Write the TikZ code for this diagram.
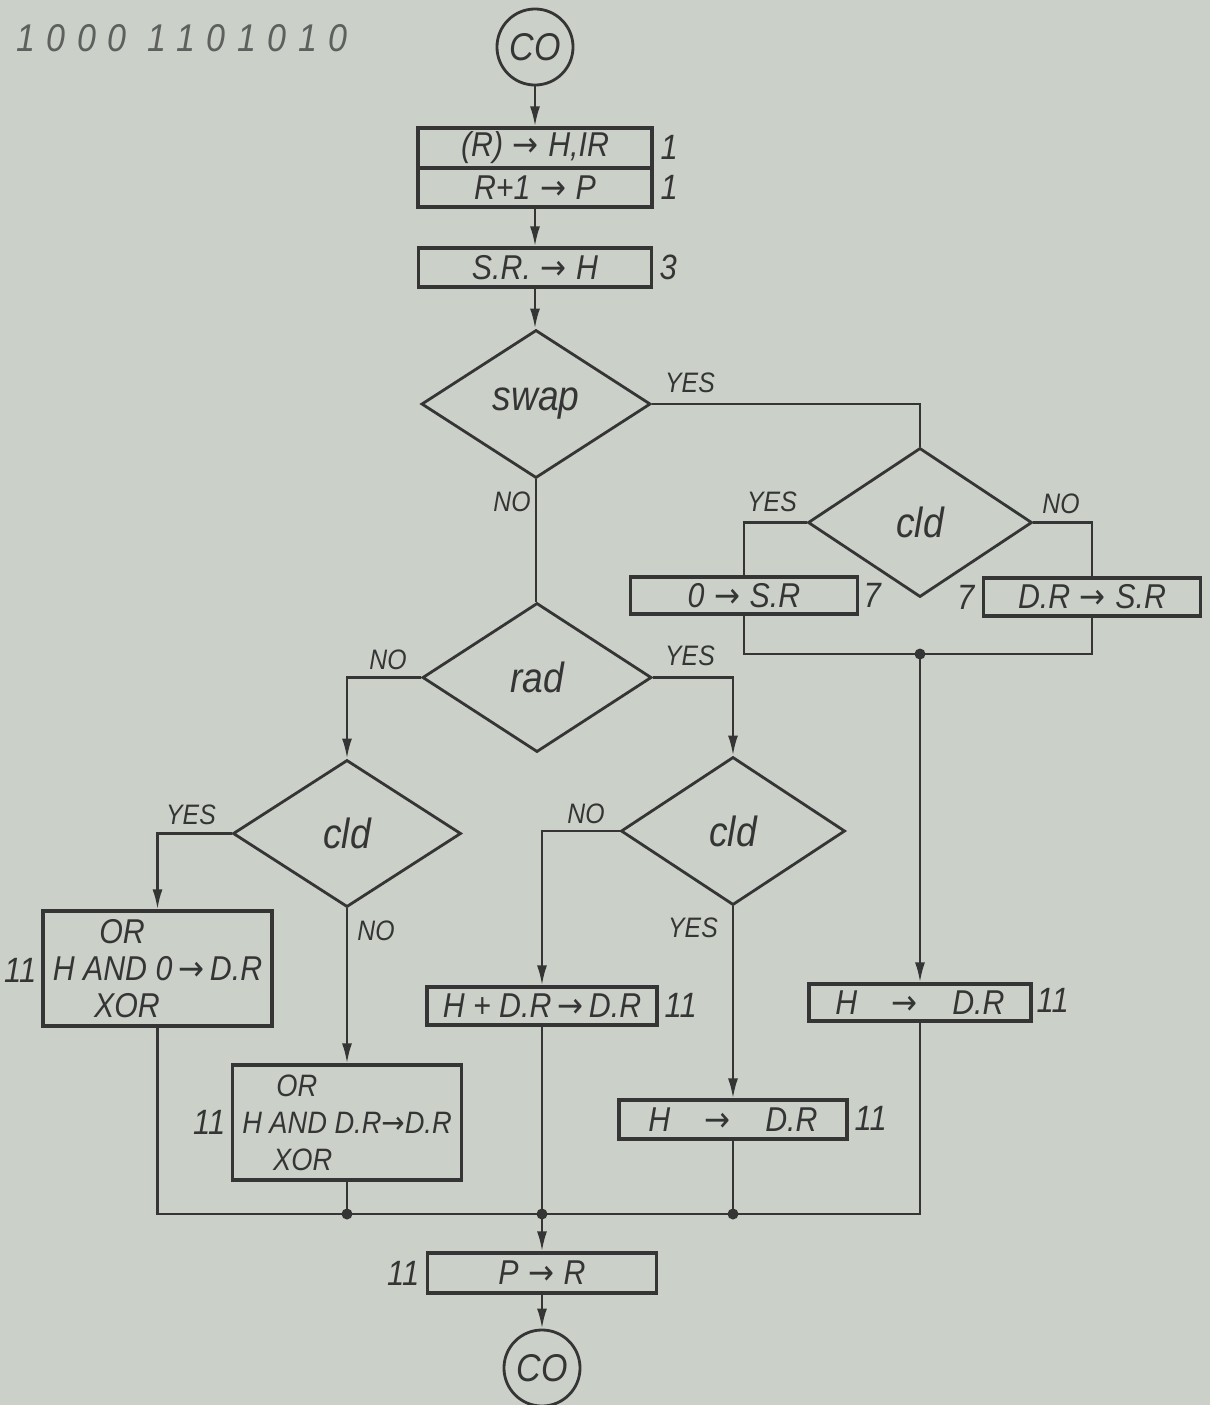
\documentclass[tikz,border=0pt]{standalone}
\usepackage{fontspec}
\setmainfont{Liberation Sans}[FakeStretch=0.88]
\newfontfamily\arrowfont{DejaVu Sans}[FakeStretch=0.9]
\usetikzlibrary{arrows.meta,positioning,shapes.geometric}
\definecolor{paper}{HTML}{CBD0C9}
\definecolor{ink}{HTML}{353535}
\definecolor{pencil}{HTML}{5E605E}
\newcommand{\ra}{{\arrowfont →}}

\begin{document}
\begin{tikzpicture}[
  x=0.01cm, y=-0.01cm,
  >={Latex[length=0.2cm,width=0.1cm]},
  terminal/.style={
    circle,
    draw=ink,
    line width=0.8pt,
    minimum size=0.76cm,
    inner sep=0pt,
    text=ink,
    font=\itshape\fontsize{11}{11}\selectfont
  },
  opbox/.style={
    rectangle,
    draw=ink,
    line width=0.9pt,
    inner sep=0pt,
    text=ink,
    font=\itshape\fontsize{9.8}{10.5}\selectfont
  },
  decision/.style={
    diamond,
    draw=ink,
    line width=0.8pt,
    inner sep=0pt,
    text=ink,
    font=\itshape\fontsize{12}{12}\selectfont
  },
  yn/.style={text=ink, inner sep=0pt, font=\itshape\fontsize{8}{8}\selectfont},
  cyc/.style={text=ink, inner sep=0pt, font=\itshape\fontsize{10}{10}\selectfont},
  flow/.style={draw=ink, line width=0.7pt, ->},
  link/.style={draw=ink, line width=0.7pt},
  joint/.style={fill=ink}
]

  % --- paper ---
  \fill[paper] (0,0) rectangle (1210,1405);
  \useasboundingbox (0,0) rectangle (1210,1405);

  \node[anchor=west, text=pencil, font=\itshape\fontsize{11}{11}\selectfont\addfontfeature{LetterSpace=30}] (note) at (4,38) {1000 1101010};

  % --- fetch ---
  \node[terminal] (coIn) at (535,47) {CO};
  \node[opbox, minimum width=2.34cm, minimum height=0.40cm] (fetch) at (535,148) {(R)\;\ra\;H,IR};
  \node[opbox, minimum width=2.34cm, minimum height=0.39cm] (incr) at (535,187.5) {R+1\;\ra\;P};
  \node[opbox, minimum width=2.33cm, minimum height=0.39cm] (load) at (535,267.5) {S.R.\;\ra\;H};

  \node[cyc, anchor=west] (c1) at (660,147) {1};
  \node[cyc, anchor=west] (c2) at (660,187) {1};
  \node[cyc, anchor=west] (c3) at (659,267) {3};

  % --- tests ---
  \node[decision, minimum width=2.29cm, minimum height=1.48cm] (swap) at (536,404) {swap};
  \node[decision, minimum width=2.24cm, minimum height=1.49cm] (cldR) at (920,522.5) {cld};
  \node[decision, minimum width=2.29cm, minimum height=1.49cm] (rad) at (537,677.5) {rad};
  \node[decision, minimum width=2.28cm, minimum height=1.47cm] (cldL) at (347,833.5) {cld};
  \node[decision, minimum width=2.24cm, minimum height=1.48cm] (cldM) at (733,831) {cld};

  % --- swap branch ---
  \node[opbox, minimum width=2.27cm, minimum height=0.37cm] (zeroSR) at (744,595.5) {0\;\ra\;S.R};
  \node[opbox, minimum width=2.17cm, minimum height=0.38cm] (drSR) at (1092,597) {D.R\;\ra\;S.R};
  \node[opbox, minimum width=2.22cm, minimum height=0.37cm] (movR) at (920,1002.5) {H\quad\ra\quad D.R};

  \node[cyc, anchor=west] (c4) at (863,595) {7};
  \node[cyc, anchor=east] (c5) at (975,597) {7};
  \node[cyc, anchor=west] (c6) at (1036,1000) {11};

  % --- logic / add branch ---
  \node[opbox, minimum width=2.29cm, minimum height=1.15cm, align=left] (orL) at (157.5,968.5)
    {\hspace*{1.35em}OR\\H AND 0\,\ra\,D.R\\\hspace*{1.2em}XOR};
  \node[opbox, minimum width=2.29cm, minimum height=1.15cm, align=left,
        font=\itshape\fontsize{8.8}{10.5}\selectfont] (orR) at (347,1122.5)
    {\hspace*{1.1em}OR\\H AND D.R\ra D.R\\\hspace*{1em}XOR};
  \node[opbox, minimum width=2.30cm, minimum height=0.38cm] (addDR) at (542,1006) {H + D.R\,\ra\,D.R};
  \node[opbox, minimum width=2.28cm, minimum height=0.39cm] (movM) at (733,1119.5) {H\quad\ra\quad D.R};

  \node[cyc, anchor=east] (c7) at (37,970) {11};
  \node[cyc, anchor=east] (c8) at (226,1122) {11};
  \node[cyc, anchor=west] (c9) at (664,1005) {11};
  \node[cyc, anchor=west] (c10) at (854,1118) {11};

  % --- store ---
  \node[opbox, minimum width=2.29cm, minimum height=0.40cm] (store) at (542,1273) {P\;\ra\;R};
  \node[cyc, anchor=east] (c11) at (420,1273) {11};
  \node[terminal] (coOut) at (542,1368) {CO};

  % --- answer labels ---
  \node[yn] (swapYes) at (690,383) {YES};
  \node[yn] (swapNo) at (512,502) {NO};
  \node[yn] (cldRYes) at (772,502) {YES};
  \node[yn] (cldRNo) at (1061,504) {NO};
  \node[yn] (radNo) at (388,660) {NO};
  \node[yn] (radYes) at (690,656) {YES};
  \node[yn] (cldLYes) at (191,815) {YES};
  \node[yn] (cldLNo) at (376,931) {NO};
  \node[yn] (cldMNo) at (586,814) {NO};
  \node[yn] (cldMYes) at (693,928) {YES};

  % --- junctions ---
  \coordinate (jR) at (920,654);
  \coordinate (bus) at (0,1214);
  \coordinate (jA) at (orR.south |- bus);
  \coordinate (jB) at (addDR.south |- bus);
  \coordinate (jC) at (movM.south |- bus);

  % --- connectors ---
  \draw[flow] (coIn) -- (fetch);
  \draw[flow] (incr) -- (load);
  \draw[flow] (load.south) -- (load.south |- swap.north);
  \draw[link] (swap.east) -| (cldR.north);
  \draw[link] (cldR.west) -| (zeroSR.north);
  \draw[link] (cldR.east) -| (drSR.north);
  \draw[link] (zeroSR.south) |- (jR);
  \draw[link] (drSR.south) |- (jR);
  \draw[flow] (jR) -- (movR.north);
  \draw[link] (swap.south) -- (swap.south |- rad.north);
  \draw[flow] (rad.west) -| (cldL.north);
  \draw[flow] (rad.east) -| (cldM.north);
  \draw[flow] (cldL.west) -| (orL.north);
  \draw[flow] (cldL.south) -- (orR.north);
  \draw[flow] (cldM.west) -| (addDR.north);
  \draw[flow] (cldM.south) -- (movM.north);
  \draw[link] (orL.south) |- (jA) -- (jC) -| (movR.south);
  \draw[link] (orR.south) -- (jA);
  \draw[link] (addDR.south) -- (jB);
  \draw[link] (movM.south) -- (jC);
  \draw[flow] (jB) -- (store.north);
  \draw[flow] (store) -- (coOut);

  \foreach \j in {jR,jA,jB,jC}
    \fill[joint] (\j) circle (0.055cm);

\end{tikzpicture}
\end{document}
